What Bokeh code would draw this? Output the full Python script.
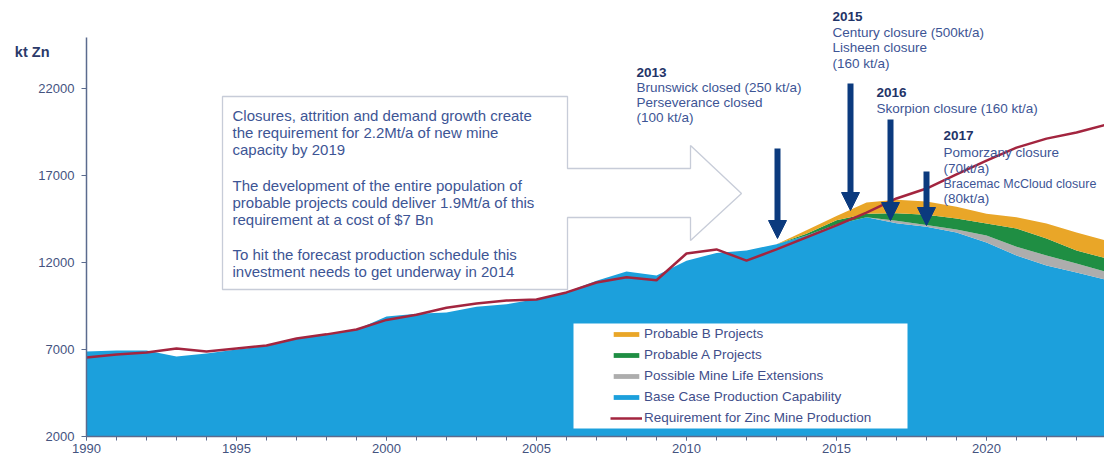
from bokeh.plotting import figure
from bokeh.models import (Range1d, Label, Legend, LegendItem, Arrow, NormalHead, LinearAxis,
                          BoxAnnotation, FixedTicker, PolyAnnotation, ColumnDataSource)
from bokeh.embed import file_html
from bokeh.resources import INLINE

# ---------------- data ----------------
years = list(range(1990, 2025))
base_case = [6890, 6940, 6940, 6600, 6770, 7000, 7200, 7600, 7880, 8150,
             8900, 9050, 9130, 9450, 9600, 9900, 10300, 10950, 11480, 11250,
             12100, 12550, 12690, 13050, 13550, 14180, 14600, 14250, 14050, 13720,
             13150, 12400, 11830, 11430, 11000]
possible_ext = [0] * 27 + [150, 100, 180, 400, 500, 570, 510, 450]
probable_a = [0] * 24 + [100, 250, 200, 430, 600, 630, 690, 1050, 980, 750, 780]
probable_b = [0] * 24 + [200, 240, 650, 770, 750, 670, 560, 650, 860, 1030, 1030]
requirement = [6540, 6710, 6830, 7060, 6890, 7060, 7230, 7630, 7870, 8150,
               8700, 9000, 9400, 9640, 9810, 9870, 10280, 10850, 11150, 10980,
               12520, 12750, 12110, 12750, 13440, 14130, 14870, 15680, 16250, 17060,
               17860, 18600, 19120, 19470, 19930]

x_ticks = [1990, 1995, 2000, 2005, 2010, 2015, 2020]
y_ticks = [2000, 7000, 12000, 17000, 22000]
unit_label = "kt Zn"

series_names = ["Base Case Production Capability", "Possible Mine Life Extensions",
                "Probable A Projects", "Probable B Projects"]
line_name = "Requirement for Zinc Mine Production"

# ---------------- layout helpers (page pixel -> data) ----------------
def X(px):
    return 1990 + (px - 86) / 30.0

def Y(py):
    return 2000 + (436 - py) / 17.4 * 1000.0

FONT = "Liberation Sans"
BLUE = "#1CA0DC"
GREY = "#ADADAD"
GREEN = "#1F8E43"
ORANGE = "#E9A628"
RED = "#A3253F"
NAVY = "#0B3A7E"
TXT = "#3D5595"
AXIS = "#5B6B8E"

src = ColumnDataSource(dict(year=years, base=base_case, ext=possible_ext,
                            pa=probable_a, pb=probable_b, req=requirement))

p = figure(width=1104, height=461,
           x_range=Range1d(1990, X(1104)), y_range=Range1d(2000, Y(0)),
           output_backend="svg", toolbar_location=None,
           min_border_left=86, min_border_right=0, min_border_top=0, min_border_bottom=25)
p.outline_line_color = None
p.grid.visible = False
p.background_fill_color = "white"
p.border_fill_color = "white"

areas = p.varea_stack(["base", "ext", "pa", "pb"], x="year", source=src,
                      color=[BLUE, GREY, GREEN, ORANGE])
line = p.line("year", "req", source=src, line_color=RED, line_width=2.5)

# axes
p.xaxis.ticker = FixedTicker(ticks=x_ticks, minor_ticks=years)
p.xaxis.major_tick_out = 4
p.xaxis.minor_tick_out = 4
p.xaxis.major_tick_in = 0
p.xaxis.minor_tick_in = 0
p.xaxis.major_label_standoff = 3
p.yaxis.ticker = FixedTicker(ticks=y_ticks)
p.yaxis.bounds = (2000, Y(37))
p.yaxis.major_tick_out = 5
p.yaxis.major_tick_in = 0
p.yaxis.minor_tick_line_color = None
p.yaxis.major_label_standoff = 7
for ax in (p.xaxis, p.yaxis):
    ax.axis_line_color = AXIS
    ax.axis_line_width = 1.5
    ax.major_tick_line_color = AXIS
    ax.major_label_text_font = FONT
    ax.major_label_text_font_size = "13px"
    ax.major_label_text_color = "#44537F"
p.xaxis.minor_tick_line_color = AXIS

# unit label shown through an extra (line-less) axis so it sits in the left margin
unit_pos = round(Y(52))
unit_axis = LinearAxis(ticker=FixedTicker(ticks=[unit_pos]),
                       major_label_overrides={unit_pos: unit_label},
                       axis_line_color=None, major_tick_line_color=None,
                       minor_tick_line_color=None, major_label_standoff=-20,
                       major_label_text_font=FONT, major_label_text_font_size="14.5px",
                       major_label_text_font_style="bold", major_label_text_color="#2B3A6A")
p.add_layout(unit_axis, "left")

# callout block arrow
poly_px = [(222, 96), (567, 96), (567, 168), (690, 168), (690, 145), (741, 193),
           (690, 240), (690, 217), (567, 217), (567, 289), (222, 289)]
p.add_layout(PolyAnnotation(xs=[X(a) for a, b in poly_px], ys=[Y(b) for a, b in poly_px],
                            fill_color="white", fill_alpha=1.0,
                            line_color="#44557F", line_width=1.3))

box_lines = [
    ("Closures, attrition  and demand growth create", 115),
    ("the requirement for 2.2Mt/a of new mine", 132),
    ("capacity by 2019", 149),
    ("The development of the entire population of", 185),
    ("probable projects could deliver 1.9Mt/a of this", 202),
    ("requirement at a cost of $7 Bn", 219),
    ("To hit the forecast production schedule this", 254),
    ("investment needs to get underway in 2014", 271),
]
for t, py in box_lines:
    p.add_layout(Label(x=X(232), y=Y(py), text=t, text_font=FONT, text_font_size="15px",
                       text_color=TXT, text_baseline="middle"))

# closure annotations (text, y, bold, font size)
notes = [
    (636, [("2013", 72, True, "13.5px"), ("Brunswick closed (250 kt/a)", 87, False, "13.5px"),
           ("Perseverance closed", 102, False, "13.5px"), ("(100 kt/a)", 117, False, "13.5px")]),
    (832, [("2015", 16, True, "13.5px"), ("Century closure (500kt/a)", 32, False, "13.5px"),
           ("Lisheen closure", 47, False, "13.5px"), ("(160 kt/a)", 63, False, "13.5px")]),
    (876, [("2016", 92, True, "13.5px"), ("Skorpion closure (160 kt/a)", 108, False, "13.5px")]),
    (943, [("2017", 135, True, "13.5px"), ("Pomorzany closure", 152, False, "13.5px"),
           ("(70kt/a)", 168, False, "13.5px"),
           ("Bracemac McCloud closure", 183, False, "12.5px"), ("(80kt/a)", 198, False, "13.5px")]),
]
for px, lines in notes:
    for t, py, bold, fs in lines:
        p.add_layout(Label(x=X(px), y=Y(py), text=t, text_font=FONT, text_font_size=fs,
                           text_font_style="bold" if bold else "normal",
                           text_color="#1F3468" if bold else TXT, text_baseline="middle"))

arrows_px = [(777, 148, 238), (850, 83, 210), (890, 119, 220), (926, 171, 225)]
for px, y0, y1 in arrows_px:
    p.add_layout(Arrow(end=NormalHead(size=18, fill_color=NAVY, line_color=NAVY),
                       x_start=X(px), y_start=Y(y0), x_end=X(px), y_end=Y(y1),
                       line_color=NAVY, line_width=6))

# legend
p.add_layout(BoxAnnotation(left=X(573), right=X(907), top=Y(323), bottom=Y(428),
                           fill_color="white", fill_alpha=1.0, line_color=None))
legend = Legend(items=[LegendItem(label=series_names[3], renderers=[areas[3]]),
                       LegendItem(label=series_names[2], renderers=[areas[2]]),
                       LegendItem(label=series_names[1], renderers=[areas[1]]),
                       LegendItem(label=series_names[0], renderers=[areas[0]]),
                       LegendItem(label=line_name, renderers=[line])],
                location=(524, 8), padding=0, spacing=0, margin=0,
                label_height=21, glyph_height=6, glyph_width=32, label_standoff=2,
                background_fill_alpha=0, border_line_color=None,
                label_text_font=FONT, label_text_font_size="13.5px",
                label_text_color="#3F4E8A")
p.add_layout(legend)

open("out.html", "w").write(file_html(p, INLINE))
